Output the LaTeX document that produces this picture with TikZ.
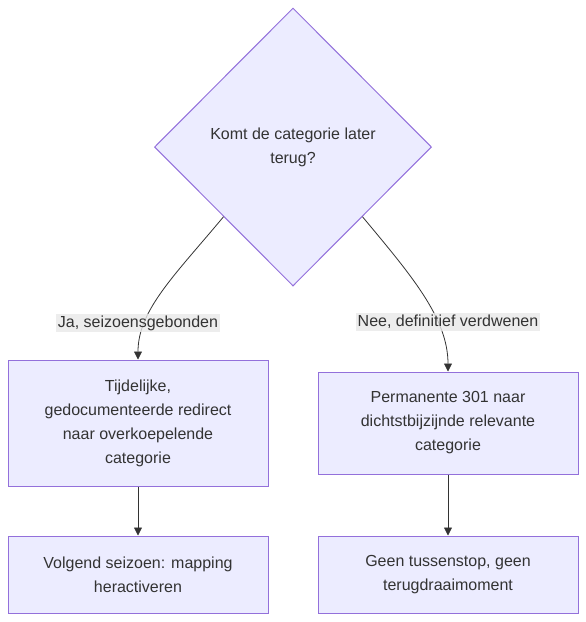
\documentclass[tikz,border=0pt]{standalone}
\usepackage{fontspec}
\setmainfont{Liberation Sans}
\usepackage{xcolor}
\usetikzlibrary{arrows.meta}
\usetikzlibrary{shapes.geometric}
\usetikzlibrary{positioning}
\definecolor{boxfill}{HTML}{ECECFF}
\definecolor{boxline}{HTML}{9370DB}
\definecolor{txt}{HTML}{333333}
\definecolor{lblfill}{HTML}{E8E8E8}

\begin{document}
\begin{tikzpicture}[x=1pt,y=-1pt,node distance=151.5pt,semithick,font=\fontsize{16}{24}\selectfont,text=txt]
	\tikzstyle{stap}=[draw=boxline, fill=boxfill, line width=1pt, minimum width=260pt, align=center, inner sep=0pt]
	\tikzstyle{vraag}=[stap, diamond, minimum width=277pt, minimum height=278pt]
	\tikzstyle{lbl}=[fill=lblfill, fill opacity=0.8, text opacity=1, inner sep=2pt]
	\tikzstyle{pijl}=[draw=txt, line width=0.8pt, -{Triangle[length=8pt,width=8pt]}]
	\useasboundingbox (0,0) rectangle (586,622);

		\node[vraag] (Q) at (293,147) {Komt de categorie later\\terug?};
		\node[stap, minimum height=126pt] (T) at (138,423) {Tijdelijke,\\gedocumenteerde redirect\\naar overkoepelende\\categorie};
		\node[stap, minimum height=102pt] (P) at (448,423) {Permanente 301 naar\\dichtstbijzijnde relevante\\categorie};
		\node[stap, minimum height=77pt] (S) [below of=T] {Volgend seizoen: mapping\\heractiveren};
		\node[stap, minimum height=77pt] (G) [below of=P] {Geen tussenstop, geen\\terugdraaimoment};

		% takken vanuit de vraag
		\draw[pijl] (Q.south west) .. controls (175,275) and (138,310) .. (T.north);
		\draw[pijl] (Q.south east) .. controls (411,275) and (448,318) .. (P.north);
		\node[lbl] (ja) at (138,323) {Ja, seizoensgebonden};
		\node[lbl] (nee) at (448,322) {Nee, definitief verdwenen};

		\draw[pijl] (T) -- (S);
		\draw[pijl] (P) -- (G);
\end{tikzpicture}
\end{document}
